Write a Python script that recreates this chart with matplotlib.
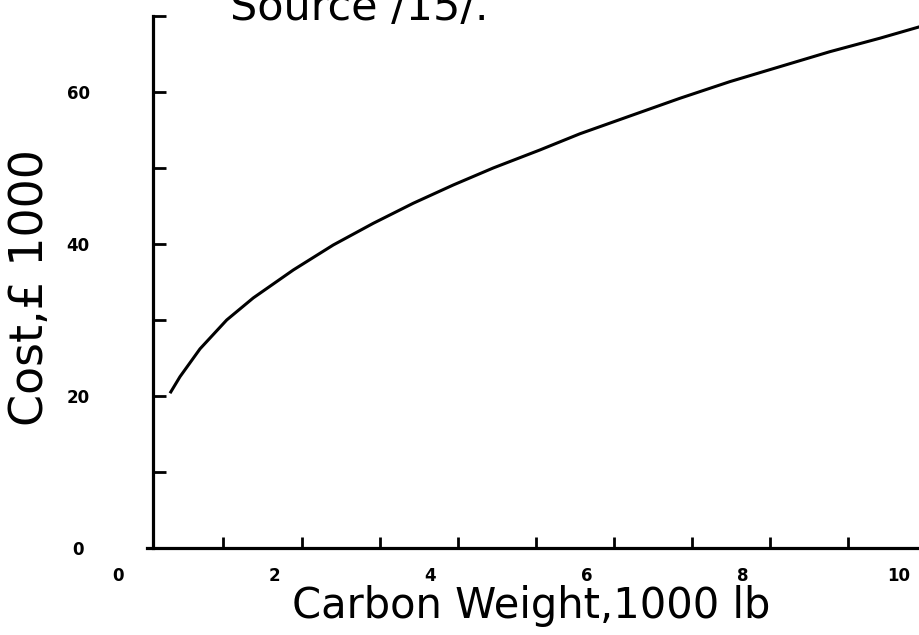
import matplotlib
matplotlib.use("Agg")
import matplotlib.pyplot as plt
from matplotlib.ticker import FixedLocator, NullFormatter

# ---- data ----
carbon_weight = [0.666, 0.794, 1.050, 1.392, 1.732, 2.245, 2.757, 3.269, 3.781,
                 4.293, 4.805, 5.403, 5.915, 6.556, 7.196, 7.836, 8.476, 9.116,
                 9.756, 10.269]
cost = [20.36, 22.54, 26.2, 30.00, 32.9, 36.58, 39.87, 42.72, 45.36,
        47.76, 50.0, 52.37, 54.5, 56.84, 59.17, 61.36, 63.33, 65.3,
        67.07, 68.59]

x_major = [0, 2, 4, 6, 8, 10]
x_major_labels = ["0", "2", "4", "6", "8", "10"]
x_minor = [1.35, 2.35, 3.35, 4.35, 5.35, 6.35, 7.35, 8.35, 9.35]
y_major = [0, 20, 40, 60]
y_major_labels = ["0", "20", "40", "60"]
y_minor = [10, 30, 50, 70]

x_label = "Carbon Weight,1000 lb"
y_label = "Cost,\u00a3 1000"
source_text = "Source /15/."

plt.rcParams['font.family'] = ['DejaVu Sans']

W, H = 920, 635
fig = plt.figure(figsize=(W / 100, H / 100), dpi=100)
ax = fig.add_axes([118 / W, (H - 548) / H, (920 - 118) / W, 548 / H])

ax.plot(carbon_weight, cost, color="black", lw=2.2, solid_capstyle="butt",
        solid_joinstyle="round")

ax.set_xlim(0, 10.27)
ax.set_ylim(0, 72.1)

for s in ("top", "right"):
    ax.spines[s].set_visible(False)
ax.spines["left"].set_position(("data", 0.45))
ax.spines["left"].set_bounds(0, 70)
ax.spines["bottom"].set_bounds(0.37, 10.27)
for s in ("left", "bottom"):
    ax.spines[s].set_linewidth(2.3)
    ax.spines[s].set_color("black")

# x axis ticks
ax.xaxis.set_major_locator(FixedLocator(x_major))
ax.set_xticklabels(x_major_labels)
ax.xaxis.set_minor_locator(FixedLocator(x_minor))
ax.xaxis.set_minor_formatter(NullFormatter())
ax.tick_params(axis="x", which="major", length=0, pad=14, labelsize=12)
ax.tick_params(axis="x", which="minor", direction="in", length=8, width=2)

# y axis ticks
ax.yaxis.set_major_locator(FixedLocator(y_major))
ax.set_yticklabels(y_major_labels)
ax.yaxis.set_minor_locator(FixedLocator(y_minor))
ax.yaxis.set_minor_formatter(NullFormatter())
ax.tick_params(axis="y", which="both", direction="in", length=9, width=2)
ax.tick_params(axis="y", which="major", pad=54, labelsize=12)
for lab in ax.get_yticklabels():
    lab.set_horizontalalignment("center")
for lab in ax.get_xticklabels() + ax.get_yticklabels():
    lab.set_fontweight("bold")

ax.set_xlabel(x_label, fontsize=30)
ax.xaxis.set_label_coords((531 - 118) / 802, -(585 - 548) / 548)
ax.xaxis.label.set_verticalalignment("top")

fig.text(31 / W, 1 - 288 / H, y_label, rotation=90, fontsize=33,
         ha="center", va="center")

fig.text(230 / W, 1 - 20 / H, source_text, fontsize=31, ha="left",
         va="baseline")

fig.savefig("out.png", dpi=100)
